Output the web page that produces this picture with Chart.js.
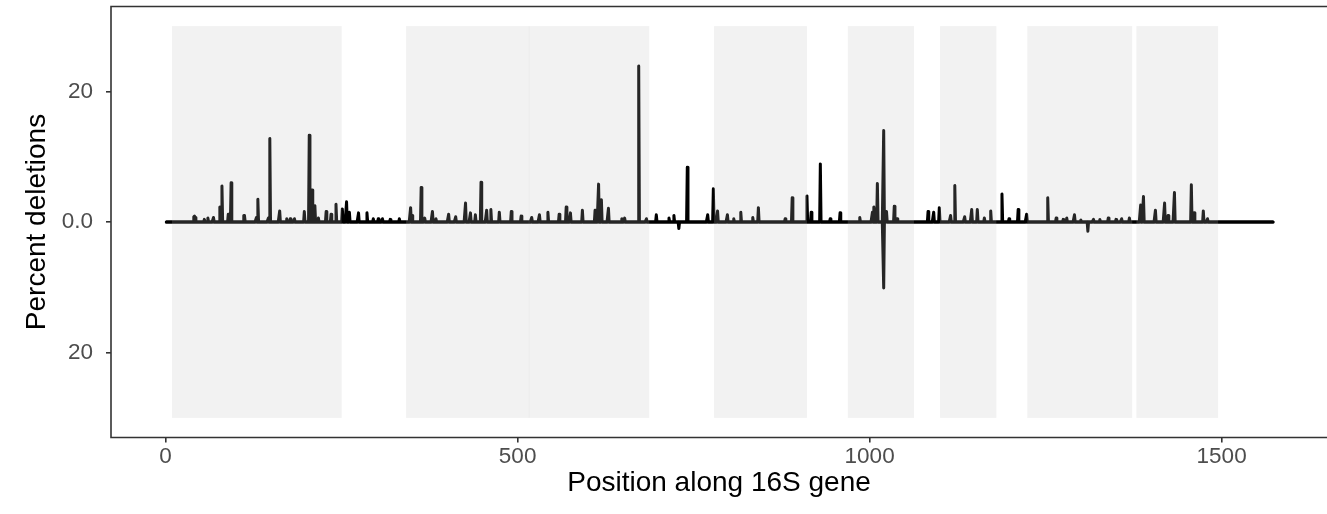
<!DOCTYPE html>
<html>
<head>
<meta charset="utf-8">
<script src="https://cdn.jsdelivr.net/npm/chart.js@4/dist/chart.umd.min.js"></script>
<style>
  html, body { margin: 0; padding: 0; background: #ffffff; }
  #wrap { width: 1327px; height: 514px; position: relative; }
</style>
</head>
<body>
<div id="wrap"><canvas id="c"></canvas></div>
<script>
// ---- data ----
const geneLength = 1573;                 // positions 1..1573
// positive (upper) deletion spikes: position, percent
const upPos = [40,41,42,55,60,68,77,80,89,93,111,112,129,131,146,148,162,172,177,183,197,204,208,212,217,228,235,242,251,257,261,274,286,295,302,308,319,332,348,350,363,368,379,384,402,412,426,433,440,448,456,462,474,491,505,520,531,543,559,569,575,592,610,615,619,629,648,652,672,683,697,715,722,741,770,778,784,798,807,817,834,842,880,890,911,917,930,944,958,986,1004,1006,1011,1020,1024,1035,1039,1083,1091,1099,1115,1121,1135,1145,1153,1163,1172,1188,1198,1211,1223,1253,1265,1275,1280,1291,1300,1318,1327,1339,1350,1358,1369,1385,1389,1406,1419,1424,1433,1457,1461,1474,1480];
const upVal = [0.8,0.9,0.7,0.4,0.6,0.7,2.3,5.5,1.2,6.0,1.0,1.0,0.7,3.5,0.6,12.8,1.7,0.5,0.5,0.5,1.6,13.3,4.9,2.5,0.6,1.6,1.2,2.7,2.0,3.1,1.5,1.4,1.4,0.5,0.5,0.5,0.4,0.5,2.2,1.0,5.3,0.6,1.6,0.5,1.2,0.8,2.9,1.4,1.1,6.1,1.8,1.9,1.5,1.6,0.9,0.7,1.1,1.5,1.2,2.3,1.4,1.8,1.8,5.8,3.4,2.1,0.5,0.6,23.9,0.5,1.1,0.6,1.0,8.4,1.1,5.1,1.7,1.1,0.5,1.5,0.7,2.2,0.5,3.7,4.0,1.5,8.9,0.5,1.4,0.7,1.5,2.3,5.9,14.0,1.6,2.4,0.5,1.6,1.5,2.2,1.0,5.6,0.8,1.9,1.9,0.6,1.7,4.3,0.5,1.9,1.2,3.7,0.6,0.4,0.6,1.1,0.3,0.4,0.4,0.6,0.4,0.5,0.6,2.6,3.9,1.8,2.9,1.0,4.5,5.7,1.4,1.7,0.5];
// lower (mirrored) deletion spikes: position, percent (drawn below zero)
const downPos = [729,1020,1310];
const downVal = [-1.0,-10.1,-1.4];
// shaded regions of the gene
const regionStart = [9, 341.6, 515.9, 779, 969, 1100, 1224, 1379];
const regionEnd   = [250, 516.6, 687, 911, 1063, 1180, 1373, 1495];
// axis ticks
const xTicks = [0, 500, 1000, 1500];
const yTicks = [-20, 0, 20];
const yTickLabels = ["20", "0.0", "20"];

// ---- build series ----
function series(pos, val) {
  const m = new Map();
  pos.forEach((p, i) => m.set(p, val[i]));
  const out = [];
  for (let p = 1; p <= geneLength; p++) out.push({ x: p, y: m.has(p) ? m.get(p) : 0 });
  return out;
}

const regionsPlugin = {
  id: 'regions',
  afterDatasetsDraw(chart) {
    const { ctx, scales: { x, y } } = chart;
    ctx.save();
    ctx.fillStyle = 'rgba(190,190,190,0.2)';
    const top = y.getPixelForValue(30), bot = y.getPixelForValue(-30);
    regionStart.forEach((s, i) => {
      const l = x.getPixelForValue(s), r = x.getPixelForValue(regionEnd[i]);
      ctx.fillRect(l, top, r - l, bot - top);
    });
    ctx.restore();
  },
  afterDraw(chart) {
    const { ctx, chartArea: a } = chart;
    ctx.save();
    ctx.strokeStyle = '#333333';
    ctx.lineWidth = 1.6;
    ctx.beginPath();
    ctx.moveTo(1327, a.top);
    ctx.lineTo(a.left, a.top);
    ctx.lineTo(a.left, a.bottom);
    ctx.lineTo(1327, a.bottom);
    ctx.stroke();
    ctx.restore();
  }
};

Chart.defaults.font.family = "'Liberation Sans', Arial, sans-serif";
new Chart(document.getElementById('c'), {
  type: 'line',
  data: {
    datasets: [
      { data: series(upPos, upVal), borderColor: '#000000', borderWidth: 3, pointRadius: 0, tension: 0, borderJoinStyle: 'round', borderCapStyle: 'round' },
      { data: series(downPos, downVal), borderColor: '#000000', borderWidth: 3, pointRadius: 0, tension: 0, borderJoinStyle: 'round', borderCapStyle: 'round' }
    ]
  },
  options: {
    responsive: true,
    maintainAspectRatio: false,
    animation: false,
    events: [],
    layout: { padding: { top: 6.5, right: 0, left: 0, bottom: 0 } },
    plugins: { legend: { display: false }, tooltip: { enabled: false } },
    scales: {
      x: {
        type: 'linear',
        min: -77.6, max: 1649.7,
        afterBuildTicks(s) { s.ticks = xTicks.map(v => ({ value: v })); },
        afterFit(s) { s.height = 76.5; s.paddingLeft = 0; s.paddingRight = 0; },
        ticks: { color: '#4D4D4D', font: { size: 22.5 }, padding: 1, maxRotation: 0, autoSkip: false, callback: v => String(v) },
        grid: { display: true, drawOnChartArea: false, drawTicks: true, tickLength: 5, color: '#333333', lineWidth: 1.6 },
        border: { display: false },
        title: { display: true, text: 'Position along 16S gene', color: '#000000', font: { size: 28 }, padding: { top: 0, bottom: 14 } }
      },
      y: {
        type: 'linear',
        min: -33, max: 33,
        afterBuildTicks(s) { s.ticks = yTicks.map(v => ({ value: v })); },
        afterFit(s) { s.width = 111; s.paddingTop = 0; s.paddingBottom = 0; },
        ticks: { color: '#4D4D4D', font: { size: 22.5 }, padding: 13, autoSkip: false, callback: (v) => yTickLabels[yTicks.indexOf(v)] },
        grid: { display: true, drawOnChartArea: false, drawTicks: true, tickLength: 5, color: '#333333', lineWidth: 1.6 },
        border: { display: false },
        title: { display: true, text: 'Percent deletions', color: '#000000', font: { size: 28 }, padding: { top: 20, bottom: 0 } }
      }
    }
  },
  plugins: [regionsPlugin]
});
</script>
</body>
</html>
